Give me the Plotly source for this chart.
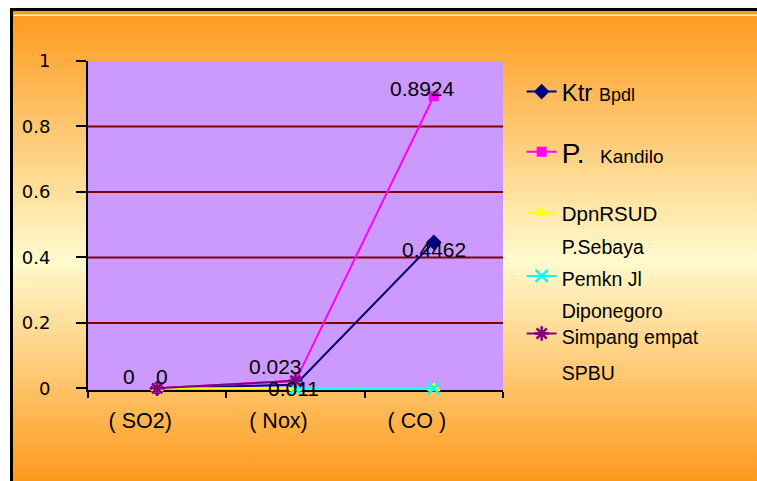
import base64
import plotly.graph_objects as go

# ---- data ----
categories = ["( SO2)", "( Nox)", "( CO )"]
ktr_bpdl = [0, 0.011, 0.4462]
p_kandilo = [0, 0.023, 0.8924]
dpn_rsud = [0, 0, 0]
p_sebaya = [None, 0, 0]
simpang_spbu = [0, 0.023, None]

ktr_labels = ["0", "0.011", "0.4462"]
kandilo_labels = ["0", "0.023", "0.8924"]

y_ticks = [0, 0.2, 0.4, 0.6, 0.8, 1]

# ---- background (gradient frame) ----
svg = """<svg xmlns='http://www.w3.org/2000/svg' width='757' height='481'>
<defs><linearGradient id='g' x1='0' y1='0' x2='0' y2='1'>
<stop offset='0' stop-color='#FF991C'/>
<stop offset='0.53' stop-color='#FFFACD'/>
<stop offset='1' stop-color='#FF991C'/>
</linearGradient></defs>
<rect width='757' height='481' fill='white'/>
<rect x='10' y='8' width='747' height='473' fill='black'/>
<rect x='13' y='11' width='744' height='470' fill='url(#g)'/>
<rect x='14' y='14.5' width='743' height='1.5' fill='white' opacity='0.9'/>
</svg>"""
bg_src = "data:image/svg+xml;base64," + base64.b64encode(svg.encode()).decode()

W, H = 757, 481
L, R, T, B = 88, 254, 61, 91
pw, ph = W - L - R, H - T - B

FONT = "Liberation Sans, Arial, sans-serif"

fig = go.Figure()

series = [
    dict(name="Ktr <span style='font-size:18px'>Bpdl</span>", y=ktr_bpdl, color="#000080",
         symbol="diamond", size=12, lw=0, legend="legend"),
    dict(name="P.&nbsp; <span style='font-size:19px'>Kandilo</span>", y=p_kandilo, color="#FF00FF",
         symbol="square", size=10, lw=0, legend="legend2"),
    dict(name="DpnRSUD", y=dpn_rsud, color="#FFFF00",
         symbol="triangle-up", size=12, lw=0, legend="legend3"),
    dict(name="<span style='font-size:19.5px'>P.Sebaya</span><br><span style='font-size:19.5px'>Pemkn Jl</span><br><span style='font-size:19.5px'>Diponegoro</span>",
         y=p_sebaya, color="#00FFFF", symbol="x-thin-open", size=12, lw=2.5, legend="legend4"),
    dict(name="<span style='font-size:19.5px'>Simpang empat</span><br><span style='font-size:19.5px'>SPBU</span>",
         y=simpang_spbu, color="#800080", symbol="asterisk-open", size=12, lw=2.5, legend="legend5"),
]

for s in series:
    fig.add_trace(go.Scatter(
        x=categories, y=s["y"], name=s["name"], mode="lines+markers",
        line=dict(color=s["color"], width=2),
        marker=dict(symbol=s["symbol"], size=s["size"], color=s["color"],
                    line=dict(color=s["color"], width=s["lw"])),
        legend=s["legend"], cliponaxis=False,
    ))

# data labels
ktr_shift = [(5, 12), (-2, -4), (0, -7)]
kandilo_shift = [(-28, 12), (-20, 14), (-11, 8)]
for labels, vals, shifts in [(ktr_labels, ktr_bpdl, ktr_shift), (kandilo_labels, p_kandilo, kandilo_shift)]:
    for c, v, t, (dx, dy) in zip(categories, vals, labels, shifts):
        fig.add_annotation(x=c, y=v, text=t, showarrow=False, xshift=dx, yshift=dy,
                           font=dict(family=FONT, size=21, color="black"))

def py(p):
    return (H - B - p) / ph

leg_x = 1.045
common = dict(x=leg_x, xanchor="left", bgcolor="rgba(0,0,0,0)", borderwidth=0,
              yanchor="middle")
fig.update_layout(
    legend=dict(y=py(92), font=dict(family=FONT, size=24, color="black"), **common),
    legend2=dict(y=py(152), font=dict(family=FONT, size=28, color="black"), **common),
    legend3=dict(y=py(213), font=dict(family=FONT, size=20.5, color="black"), **common),
    legend4=dict(y=py(276), font=dict(family=FONT, size=24.6, color="black"), valign="middle", **common),
    legend5=dict(y=py(352), font=dict(family=FONT, size=27.7, color="black"), valign="top", **common),
)

fig.add_layout_image(dict(source=bg_src, xref="paper", yref="paper",
                          x=-L / pw, y=1 + T / ph, sizex=W / pw, sizey=H / ph,
                          xanchor="left", yanchor="top", sizing="stretch", layer="below"))
fig.add_shape(type="rect", xref="paper", yref="paper", x0=0, x1=1, y0=0, y1=1,
              fillcolor="#CC99FF", line=dict(width=0), layer="below")
# horizontal gridlines at the interior ticks
for v in y_ticks[1:-1]:
    fig.add_shape(type="line", xref="paper", yref="y", x0=0, x1=1, y0=v, y1=v,
                  line=dict(color="#800000", width=2), layer="below")

fig.update_layout(
    width=W, height=H, autosize=False,
    margin=dict(l=L, r=R, t=T, b=B, pad=0),
    paper_bgcolor="white", plot_bgcolor="rgba(0,0,0,0)",
    showlegend=True,
    xaxis=dict(type="category", range=[-0.5, 2.5], tickson="boundaries",
               ticks="outside", ticklen=6, tickwidth=2, tickcolor="black",
               showline=True, linecolor="black", linewidth=2, showgrid=False,
               layer="below traces",
               tickfont=dict(family=FONT, size=21.5, color="black"),
               ticklabelshift=-17, ticklabelstandoff=10, fixedrange=True),
    yaxis=dict(range=[-0.005, 1], tickmode="array", tickvals=y_ticks,
               ticktext=[f"{v:g}" for v in y_ticks],
               ticks="outside", ticklen=10, tickwidth=2, tickcolor="black",
               showline=True, linecolor="black", linewidth=2,
               showgrid=False, zeroline=False,
               layer="below traces",
               tickfont=dict(family="DejaVu Sans", size=18, color="black"),
               ticklabelstandoff=22, fixedrange=True),
)

fig.write_html("out.html")
